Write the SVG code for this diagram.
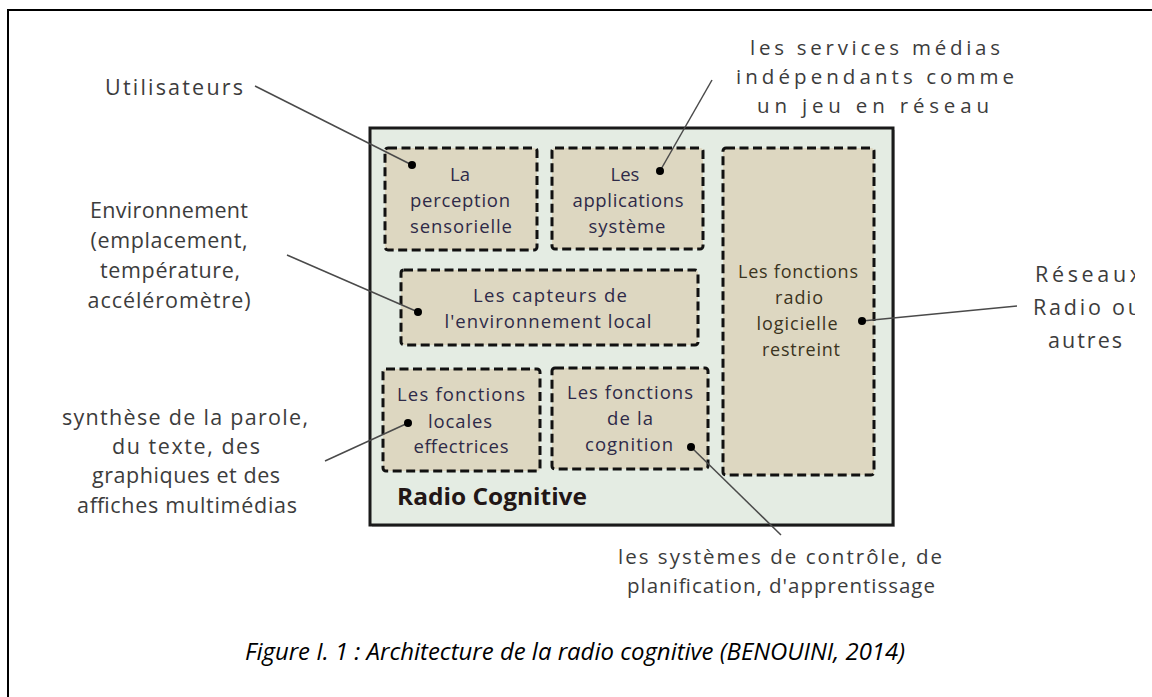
<svg xmlns="http://www.w3.org/2000/svg" width="1152" height="697" viewBox="0 0 1152 697">
<style>
.lbl{font-family:"Open Sans","Liberation Sans",sans-serif;font-size:21.5px;fill:#3c3c3c;text-anchor:middle}
.sm{font-size:20.5px}
.bt{font-family:"Open Sans","Liberation Sans",sans-serif;font-size:18.5px;fill:#2e2a48;text-anchor:middle}
.rt{font-family:"Open Sans","Liberation Sans",sans-serif;font-size:18px;fill:#3a3320;text-anchor:middle}
.box{fill:#ddd7c1;stroke:#111;stroke-width:3;stroke-dasharray:9 4.5}
.conn{stroke:#4a4a4a;stroke-width:1.5;fill:none}
.dot{fill:#000}
</style>
<defs>
<clipPath id="clipR"><rect x="1000" y="250" width="135" height="120"/></clipPath>
</defs>
<rect width="1152" height="697" fill="#fff"/>
<path d="M8,697 L8,10 L1152,10" fill="none" stroke="#000" stroke-width="2"/>

<g id="radio-cognitive">
<rect x="372" y="130" width="523" height="397" fill="#888" opacity="0.5"/>
<rect x="370" y="128" width="523" height="397" fill="#e4ece3" stroke="#1a1a1a" stroke-width="3"/>
<text x="397" y="505" font-family="'Open Sans','Liberation Sans',sans-serif" font-size="24" font-weight="bold" fill="#221616" textLength="190" lengthAdjust="spacingAndGlyphs">Radio Cognitive</text>
</g>

<g id="perception">
<rect class="box" x="385" y="148" width="152" height="102" rx="3"/>
<text class="bt" x="460" y="181">La</text>
<text class="bt" x="460" y="207" textLength="100">perception</text>
<text class="bt" x="461" y="233" textLength="102">sensorielle</text>
</g>

<g id="applications">
<rect class="box" x="552" y="148" width="151" height="101" rx="3"/>
<text class="bt" x="625" y="181">Les</text>
<text class="bt" x="628" y="207" textLength="111">applications</text>
<text class="bt" x="627" y="233" textLength="77">système</text>
</g>

<g id="capteurs">
<rect class="box" x="401" y="270" width="297" height="75" rx="3"/>
<text class="bt" x="550" y="302" textLength="154">Les capteurs de</text>
<text class="bt" x="548" y="328" textLength="207">l'environnement local</text>
</g>

<g id="locales">
<rect class="box" x="383" y="369" width="157" height="102" rx="3"/>
<text class="bt" x="461" y="401" textLength="128">Les fonctions</text>
<text class="bt" x="460" y="428" textLength="64">locales</text>
<text class="bt" x="461" y="453" textLength="95">effectrices</text>
</g>

<g id="cognition">
<rect class="box" x="552" y="368" width="156" height="101" rx="3"/>
<text class="bt" x="630" y="399" textLength="126">Les fonctions</text>
<text class="bt" x="630" y="425" textLength="46">de la</text>
<text class="bt" x="629" y="451" textLength="88">cognition</text>
</g>

<g id="radio-logicielle">
<rect class="box" x="723" y="148" width="151" height="327" rx="3"/>
<text class="rt" x="798" y="278" textLength="120">Les fonctions</text>
<text class="rt" x="799" y="304" textLength="48">radio</text>
<text class="rt" x="797" y="330" textLength="81">logicielle</text>
<text class="rt" x="801" y="356" textLength="78">restreint</text>
</g>

<g id="connectors">
<line class="conn" x1="255" y1="86" x2="412" y2="165"/>
<line class="conn" x1="712" y1="80" x2="660" y2="171"/>
<line class="conn" x1="287" y1="255" x2="418" y2="312"/>
<line class="conn" x1="325" y1="461" x2="408" y2="423"/>
<line class="conn" x1="691" y1="447" x2="781" y2="535"/>
<line class="conn" x1="1017" y1="306" x2="862" y2="321"/>
<circle class="dot" cx="412" cy="165" r="4"/>
<circle class="dot" cx="660" cy="171" r="4"/>
<circle class="dot" cx="418" cy="312" r="4"/>
<circle class="dot" cx="408" cy="423" r="4"/>
<circle class="dot" cx="691" cy="447" r="4"/>
<circle class="dot" cx="862" cy="321" r="4"/>
</g>

<g id="utilisateurs">
<text class="lbl" x="174" y="95" textLength="138">Utilisateurs</text>
</g>

<g id="environnement">
<text class="lbl" x="169" y="218" textLength="158">Environnement</text>
<text class="lbl" x="169" y="248" textLength="157">(emplacement,</text>
<text class="lbl" x="170" y="278" textLength="140">température,</text>
<text class="lbl" x="169" y="308" textLength="163">accéléromètre)</text>
</g>

<g id="synthese">
<text class="lbl" x="185" y="425" textLength="246">synthèse de la parole,</text>
<text class="lbl" x="186" y="454" textLength="148">du texte, des</text>
<text class="lbl" x="186" y="483" textLength="188">graphiques et des</text>
<text class="lbl" x="187" y="513" textLength="220">affiches multimédias</text>
</g>

<g id="services">
<text class="lbl sm" x="875" y="55" textLength="250">les services médias</text>
<text class="lbl sm" x="875" y="84" textLength="278">indépendants comme</text>
<text class="lbl sm" x="873" y="113" textLength="232">un jeu en réseau</text>
</g>

<g id="reseaux" clip-path="url(#clipR)">
<text class="lbl" x="1088" y="282" textLength="106">Réseaux</text>
<text class="lbl" x="1087" y="315" textLength="108">Radio ou</text>
<text class="lbl" x="1085" y="348" textLength="74">autres</text>
</g>

<g id="controle">
<text class="lbl sm" x="780" y="564" textLength="324">les systèmes de contrôle, de</text>
<text class="lbl sm" x="781" y="593" textLength="308">planification, d'apprentissage</text>
</g>

<text x="575" y="660" font-family="'Open Sans','Liberation Sans',sans-serif" font-size="24" font-style="italic" fill="#000" text-anchor="middle" textLength="660" lengthAdjust="spacingAndGlyphs">Figure I. 1 : Architecture de la radio cognitive (BENOUINI, 2014)</text>
</svg>
